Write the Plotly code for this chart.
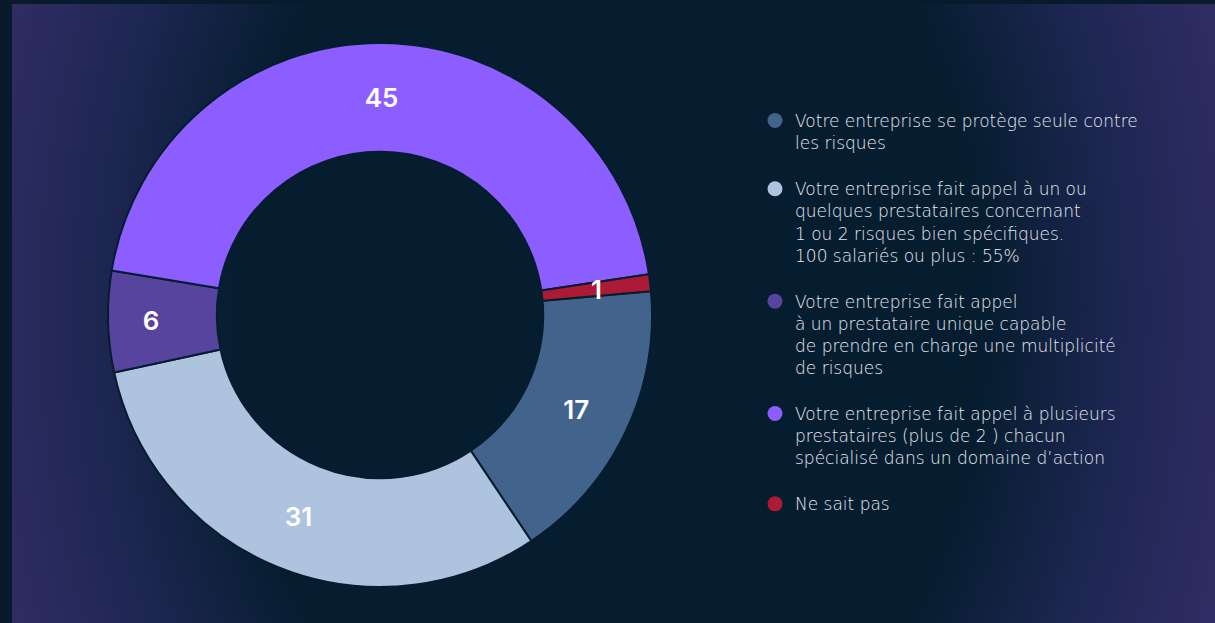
import plotly.graph_objects as go
import base64
import math

labels = [
    "Votre entreprise se protège seule contre<br>les risques",
    "Votre entreprise fait appel à un ou<br>quelques prestataires concernant<br>1 ou 2 risques bien spécifiques.<br>100 salariés ou plus : 55%",
    "Votre entreprise fait appel<br>à un prestataire unique capable<br>de prendre en charge une multiplicité<br>de risques",
    "Votre entreprise fait appel à plusieurs<br>prestataires (plus de 2 ) chacun<br>spécialisé dans un domaine d’action",
    "Ne sait pas",
]
values = [17, 31, 6, 45, 1]
colors = ["#42648c", "#adc3de", "#56449f", "#8c5eff", "#ac1a35"]

W, H = 1215, 623
DARK = "#061d30"
FRAME = "#071b2c"
ROTATION = 85
HOLE = 0.6
DOM_X = [108 / W, 652 / W]
DOM_Y = [(H - 587) / H, (H - 43) / H]

svg = f'''<svg xmlns="http://www.w3.org/2000/svg" width="{W-12}" height="{H-4}" viewBox="0 0 {W-12} {H-4}">
<defs>
<radialGradient id="g" gradientUnits="userSpaceOnUse" cx="0" cy="0" r="1"
 gradientTransform="translate(598 306) scale(650 900)">
<stop offset="0" stop-color="{DARK}"/>
<stop offset="0.58" stop-color="{DARK}"/>
<stop offset="0.78" stop-color="#1d2651"/>
<stop offset="1" stop-color="#312d66"/>
</radialGradient>
</defs>
<rect x="0" y="0" width="{W-12}" height="{H-4}" fill="url(#g)"/>
</svg>'''
src = "data:image/svg+xml;base64," + base64.b64encode(svg.encode()).decode()

# tiny slices: plotly pushes horizontal inside text to the outer edge, so label them
# at the ring's mid radius with an annotation derived from the data
total = sum(values)
small = [v < 3 for v in values]
texts = ["" if s else str(v) for v, s in zip(values, small)]

fig = go.Figure()
fig.add_trace(go.Pie(
    values=values,
    labels=labels,
    sort=False,
    direction="clockwise",
    rotation=ROTATION,
    hole=HOLE,
    marker=dict(colors=colors, line=dict(color=DARK, width=2)),
    text=texts,
    textinfo="text",
    textposition="inside",
    insidetextorientation="horizontal",
    textfont=dict(family="Inter", size=26, color="white", weight=600),
    domain=dict(x=DOM_X, y=DOM_Y),
    showlegend=False,
    hoverinfo="label+value",
))

annotations = []
cx = (DOM_X[0] + DOM_X[1]) / 2 * W
cy = (1 - (DOM_Y[0] + DOM_Y[1]) / 2) * H
R = min((DOM_X[1] - DOM_X[0]) * W, (DOM_Y[1] - DOM_Y[0]) * H) / 2
rmid = R * (1 + HOLE) / 2
cum = 0
for v, s in zip(values, small):
    mid = math.radians(ROTATION + (cum + v / 2) / total * 360)
    cum += v
    if s:
        px = cx + rmid * math.sin(mid)
        py = cy - rmid * math.cos(mid)
        annotations.append(dict(
            x=px / W, y=1 - py / H, xref="paper", yref="paper",
            text=str(v), showarrow=False, xanchor="center", yanchor="middle",
            font=dict(family="Inter", size=26, color="white", weight=600),
        ))

for i, (lab, col) in enumerate(zip(labels, colors)):
    fig.add_trace(go.Scatter(
        x=[None], y=[None], mode="markers",
        marker=dict(symbol="circle", size=15, color=col),
        name=lab, legendgroup=f"g{i}", showlegend=True,
    ))

fig.update_layout(
    width=W, height=H,
    margin=dict(l=0, r=0, t=0, b=0),
    paper_bgcolor=FRAME,
    plot_bgcolor="rgba(0,0,0,0)",
    xaxis=dict(visible=False),
    yaxis=dict(visible=False),
    uniformtext=dict(minsize=26, mode="show"),
    annotations=annotations,
    legend=dict(
        x=755 / W, xanchor="left",
        y=1 - 103 / H, yanchor="top",
        bgcolor="rgba(0,0,0,0)",
        font=dict(family="DejaVu Sans", size=17, color="#e6e9f0", weight=200),
        tracegroupgap=21,
        valign="top",
        itemwidth=30,
    ),
    images=[dict(
        source=src, xref="paper", yref="paper",
        x=12 / W, y=1 - 4 / H, sizex=(W - 12) / W, sizey=(H - 4) / H,
        xanchor="left", yanchor="top", sizing="stretch", layer="below",
    )],
)

fig.write_html(
    "out.html",
    config={"displayModeBar": False},
    post_script="document.body.style.margin='0';document.body.style.background='%s';" % FRAME,
)
